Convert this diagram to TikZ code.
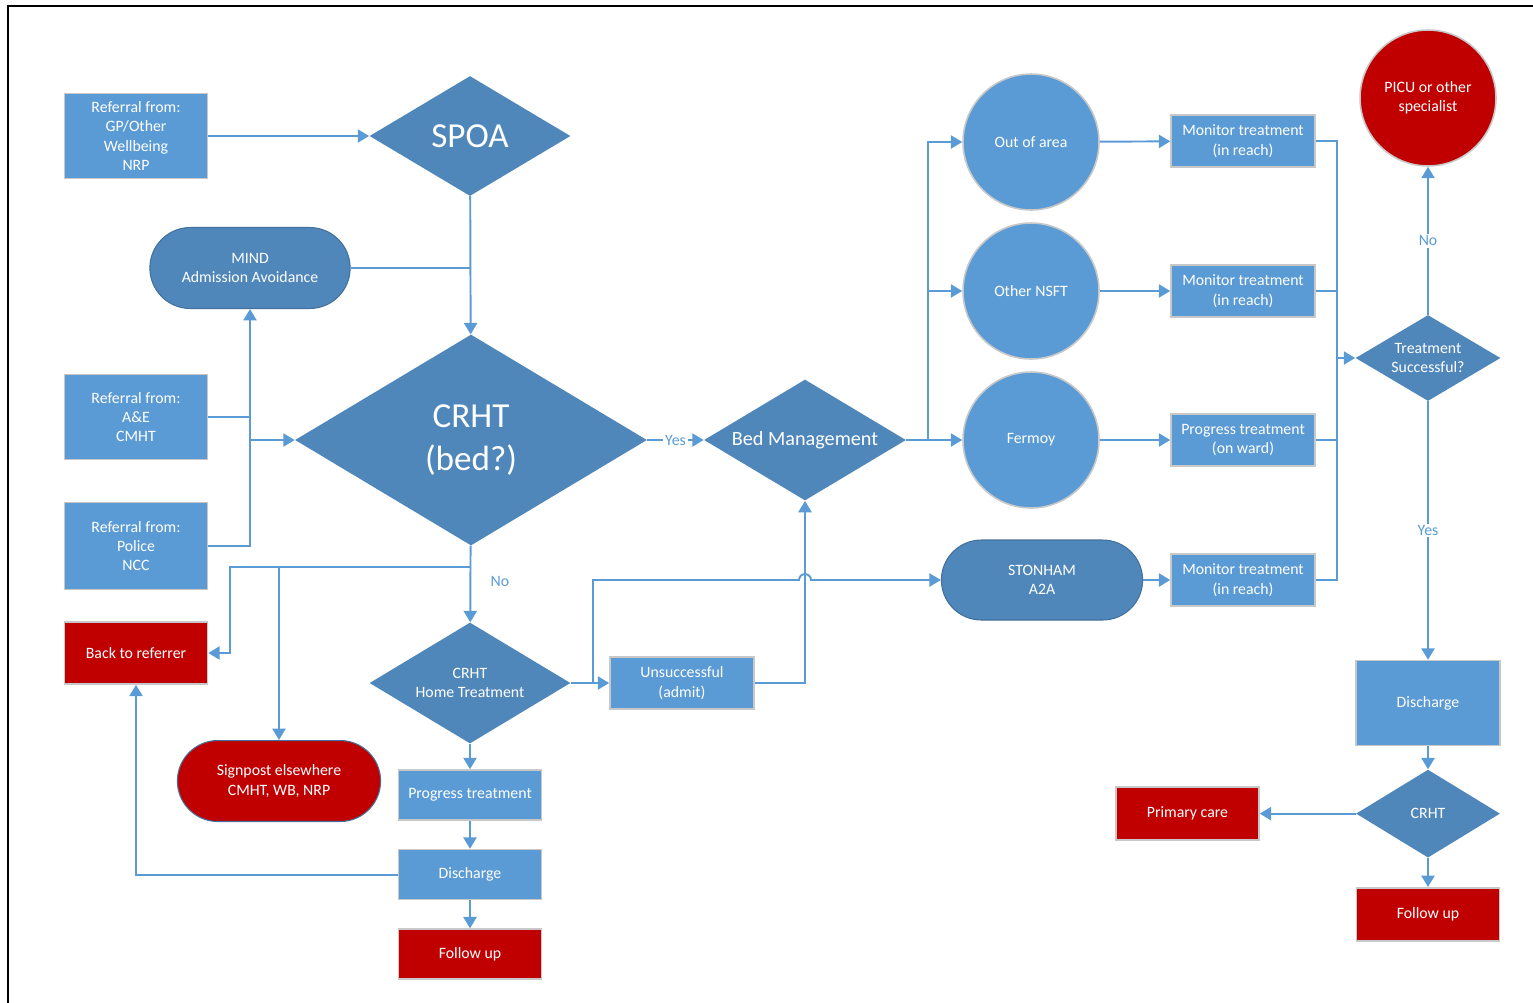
\documentclass[tikz,border=0pt]{standalone}
\usepackage{fontspec}
\setmainfont{Carlito}
\usepackage{tikz}
\usetikzlibrary{shapes.geometric,shapes.misc,arrows.meta,positioning,calc}
\definecolor{lblue}{RGB}{91,155,213}
\definecolor{dblue}{RGB}{80,135,186}
\definecolor{nred}{RGB}{192,0,0}
\definecolor{edgeblue}{RGB}{65,113,156}
\definecolor{boxgray}{RGB}{200,200,200}
\tikzset
{
    process/.style  = {rectangle, fill=lblue, draw=boxgray, line width=0.9pt, text=white, align=center, minimum width=2.86cm, minimum height=1.04cm, font=\fontsize{9}{11}\selectfont},
    stopbox/.style  = {process, fill=nred},
    decision/.style = {diamond, aspect=1.67, fill=dblue, text=white, align=center, inner sep=0pt, font=\fontsize{9}{11}\selectfont},
    terminal/.style = {rounded rectangle, fill=dblue, draw=edgeblue, line width=0.6pt, text=white, align=center, minimum width=4.24cm, minimum height=1.62cm, font=\fontsize{9}{11}\selectfont},
    place/.style    = {circle, fill=lblue, draw=boxgray, line width=0.9pt, text=white, align=center, minimum size=2.72cm, font=\fontsize{9}{11}\selectfont},
    arrow/.style    = {line width=1.1pt, draw=lblue, -{Triangle[width=7.5pt,length=6.5pt]}},
    line/.style     = {line width=1.1pt, draw=lblue},
    lbl/.style      = {text=lblue, inner sep=1pt, font=\fontsize{9}{11}\selectfont}
}

\begin{document}
\begin{tikzpicture}[x=0.02cm, y=-0.02cm]
	\useasboundingbox (0,0) rectangle (1533,1002);
	\draw[line width=1.3pt] (8,1010) -- (8,6) -- (1545,6);

	% left column
	\node (ref1) [process, minimum height=1.7cm] at (136,136) {Referral from:\\GP/Other\\Wellbeing\\NRP};
	\node (spoa) [decision, minimum width=4.02cm, minimum height=2.4cm, font=\fontsize{20}{24}\selectfont] at (470,136) {SPOA};
	\node (mind) [terminal] at (250,268) {MIND\\Admission Avoidance};
	\node (crht) [decision, minimum width=7.04cm, minimum height=4.22cm, font=\fontsize{20}{25}\selectfont] at (471,440) {CRHT\\(bed?)};
	\node (ref2) [process, minimum height=1.7cm] at (136,417) {Referral from:\\A\&E\\CMHT};
	\node (ref3) [process, minimum height=1.74cm] at (136,546) {Referral from:\\Police\\NCC};
	\node (back) [stopbox, minimum height=1.24cm] at (136,653) {Back to referrer};
	\node (sign) [terminal, fill=nred, minimum width=4.3cm] at (279,781) {Signpost elsewhere\\CMHT, WB, NRP};
	\node (home) [decision, minimum width=4.02cm, minimum height=2.42cm] at (470,683) {CRHT\\Home Treatment};
	\node (prog) [process, minimum height=1cm] at (470,795) {Progress treatment};
	\node (dis) [process, minimum height=1cm, below=0.56cm of prog] {Discharge};
	\node (fol) [stopbox, minimum height=1cm, below=0.56cm of dis] {Follow up};
	\node (unsu) [process, minimum width=2.88cm] at (682,683) {Unsuccessful\\(admit)};
	\node (bed) [decision, minimum width=4.04cm, minimum height=2.42cm, font=\fontsize{11.5}{13}\selectfont] at (805,440) {Bed Management};

	% beds
	\node (outa) [place] at (1031,142) {Out of area};
	\node (nsft) [place] at (1031,291) {Other NSFT};
	\node (ferm) [place] at (1031,440) {Fermoy};
	\node (ston) [terminal, minimum width=4.26cm, minimum height=1.6cm] at (1042,580) {STONHAM\\A2A};
	\node (mon1) [process, minimum width=2.88cm] at (1243,141) {Monitor treatment\\(in reach)};
	\node (mon2) [process, minimum width=2.88cm] at (1243,291) {Monitor treatment\\(in reach)};
	\node (ward) [process, minimum width=2.88cm] at (1243,440) {Progress treatment\\(on ward)};
	\node (mon3) [process, minimum width=2.88cm] at (1243,580) {Monitor treatment\\(in reach)};

	% right column
	\node (picu) [place, fill=nred] at (1428,98) {PICU or other\\specialist};
	\node (succ) [decision, aspect=1.69, minimum width=2.9cm, minimum height=1.72cm] at (1428,358) {Treatment\\Successful?};
	\node (disr) [process, minimum width=2.88cm, minimum height=1.7cm] at (1428,703) {Discharge};
	\node (crhs) [decision, aspect=1.64, minimum width=2.88cm, minimum height=1.76cm, below=0.46cm of disr] {CRHT};
	\node (prim) [stopbox, minimum height=1.06cm, left=1.92cm of crhs] {Primary care};
	\node (folr) [stopbox, minimum height=1.06cm, below=0.58cm of crhs] {Follow up};

	\coordinate (split) at (470,567);
	\coordinate (bk) at (230,567);
	\coordinate (hj) at (593,683);
	\coordinate (jump) at (bed.south |- ston.west);
	\coordinate (bsplit) at (928,440);
	\coordinate (msplit) at (1337,358);

	\draw [arrow] (ref1) -- (spoa);
	\draw [arrow] (spoa) -- (crht);
	\draw [line] (mind.east) -- (mind.east -| spoa.south);
	\draw [line] (ref2.east) -- (ref2.east -| mind.south);
	\draw [arrow] (ref3.east) -| (mind.south);
	\draw [arrow] (crht.west -| mind.south) -- (crht.west);
	\draw [arrow] (crht) -- node[lbl, fill=white] {Yes} (bed);
	\draw [arrow] (crht) -- node[lbl, right=0.35cm, pos=0.47] {No} (home);
	\draw [arrow] (split) -- (bk) |- (back.east);
	\draw [arrow] (split -| sign.north) -- (sign.north);
	\draw [arrow] (home) -- (prog);
	\draw [arrow] (prog) -- (dis);
	\draw [arrow] (dis) -- (fol);
	\draw [arrow] (dis.west) -| (back.south);
	\draw [arrow] (home) -- (unsu);
	\draw [arrow] (hj) |- ([xshift=-3.4pt]jump) arc[start angle=180, end angle=0, radius=3.4pt] -- (ston.west);
	\draw [arrow] (unsu.east) -| (bed.south);
	\draw [arrow] (bed) -- (ferm);
	\draw [arrow] (bsplit) |- (outa.west);
	\draw [arrow] (bsplit) |- (nsft.west);
	\draw [arrow] (outa) -- (mon1);
	\draw [arrow] (nsft) -- (mon2);
	\draw [arrow] (ferm) -- (ward);
	\draw [arrow] (ston) -- (mon3);
	\draw [line] (mon1.east) -| (msplit);
	\draw [line] (mon2.east) -| (msplit);
	\draw [line] (ward.east) -| (msplit);
	\draw [line] (mon3.east) -| (msplit);
	\draw [arrow] (msplit) -- (succ);
	\draw [arrow] (succ) -- node[lbl, fill=white] {No} (picu);
	\draw [arrow] (succ) -- node[lbl, fill=white] {Yes} (disr);
	\draw [arrow] (disr) -- (crhs);
	\draw [arrow] (crhs) -- (prim);
	\draw [arrow] (crhs) -- (folr);
\end{tikzpicture}
\end{document}
